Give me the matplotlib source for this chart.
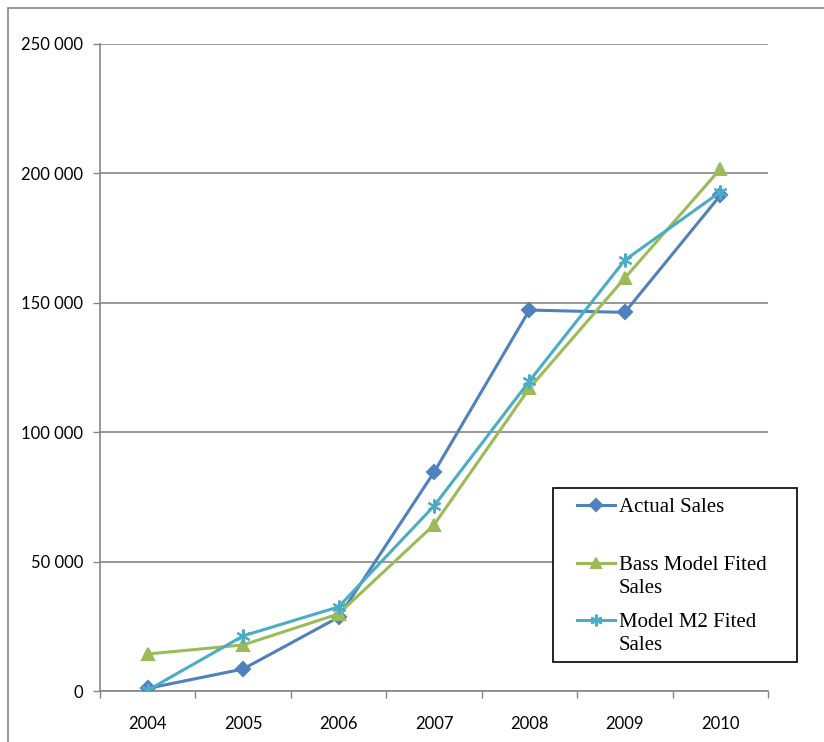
import matplotlib
matplotlib.use("Agg")
import matplotlib.pyplot as plt
from matplotlib.lines import Line2D
from matplotlib.patches import Rectangle
from matplotlib.ticker import FuncFormatter, MultipleLocator

years = ["2004", "2005", "2006", "2007", "2008", "2009", "2010"]
actual_sales = [1000, 8500, 28500, 84500, 147200, 146300, 191500]
bass_fitted = [14300, 17800, 29800, 64200, 117000, 159600, 201700]
m2_fitted = [300, 21300, 32500, 71500, 119800, 166500, 192800]

series_names = ["Actual Sales", "Bass Model Fited\nSales", "Model M2 Fited\nSales"]
colors = ["#4F81BD", "#9BBB59", "#4BACC6"]
markers = ["D", "^", (6, 2, 0)]
msizes = [7, 9, 10]

W, H = 824, 742
fig = plt.figure(figsize=(W / 100, H / 100), dpi=100)
ax = fig.add_axes([100 / W, 1 - 691 / H, (768 - 100) / W, (691 - 44) / H])

tick_font = ["Lato", "DejaVu Sans"]
legend_font = ["Liberation Serif", "DejaVu Serif"]

x = list(range(len(years)))
for vals, c, m, ms in zip([actual_sales, bass_fitted, m2_fitted], colors, markers, msizes):
    ax.plot(x, vals, color=c, lw=2.2, marker=m, markersize=ms,
            markerfacecolor=c, markeredgecolor=c, markeredgewidth=1.5,
            solid_joinstyle="round", zorder=3)

ax.set_xlim(-0.5, len(years) - 0.5)
ax.set_ylim(0, 250000)
ax.yaxis.set_major_locator(MultipleLocator(50000))
ax.yaxis.set_major_formatter(FuncFormatter(lambda v, p: f"{int(v):,}".replace(",", " ")))
ax.set_xticks(x)
ax.set_xticklabels(years)
ax.set_xticks([i - 0.5 for i in range(len(years) + 1)], minor=True)
ax.tick_params(axis="x", which="major", length=0, pad=18, labelsize=12)
ax.tick_params(axis="x", which="minor", length=5, width=1, color="#868686")
ax.tick_params(axis="y", which="major", length=5, width=1, color="#868686",
               labelsize=12, pad=7)
for lab in ax.get_xticklabels() + ax.get_yticklabels():
    lab.set_family(tick_font)

ax.grid(axis="y", color="#868686", lw=1.2, zorder=0)
ax.set_axisbelow(True)
for s in ["top", "right"]:
    ax.spines[s].set_visible(False)
for s in ["left", "bottom"]:
    ax.spines[s].set_color("#868686")
    ax.spines[s].set_linewidth(1.2)

# outer chart border (left and top edges visible)
fig.add_artist(Rectangle((8 / W, -0.1), 1.2, 1 - 8 / H + 0.1, transform=fig.transFigure,
                         fill=False, edgecolor="#888888", lw=1.2))

# legend box
lx0, ly0, lx1, ly1 = 553, 488, 797, 662
fig.add_artist(Rectangle((lx0 / W, 1 - ly1 / H), (lx1 - lx0) / W, (ly1 - ly0) / H,
                         transform=fig.transFigure, facecolor="white",
                         edgecolor="black", lw=1.2, zorder=5))
entry_y = [505, 563, 620]
for name, c, m, ms, ey in zip(series_names, colors, markers, msizes, entry_y):
    yf = 1 - ey / H
    fig.add_artist(Line2D([577 / W, 615 / W], [yf, yf], transform=fig.transFigure,
                          color=c, lw=2.2, zorder=6))
    fig.add_artist(Line2D([596 / W], [yf], transform=fig.transFigure, color=c,
                          marker=m, markersize=ms * 0.85, markerfacecolor=c,
                          markeredgecolor=c, markeredgewidth=1.5, zorder=6))
    fig.text(619 / W, yf + 7 / H, name, family=legend_font, fontsize=15,
             va="top", ha="left", linespacing=1.3, zorder=7)

fig.savefig("out.png", dpi=100, facecolor="white")
